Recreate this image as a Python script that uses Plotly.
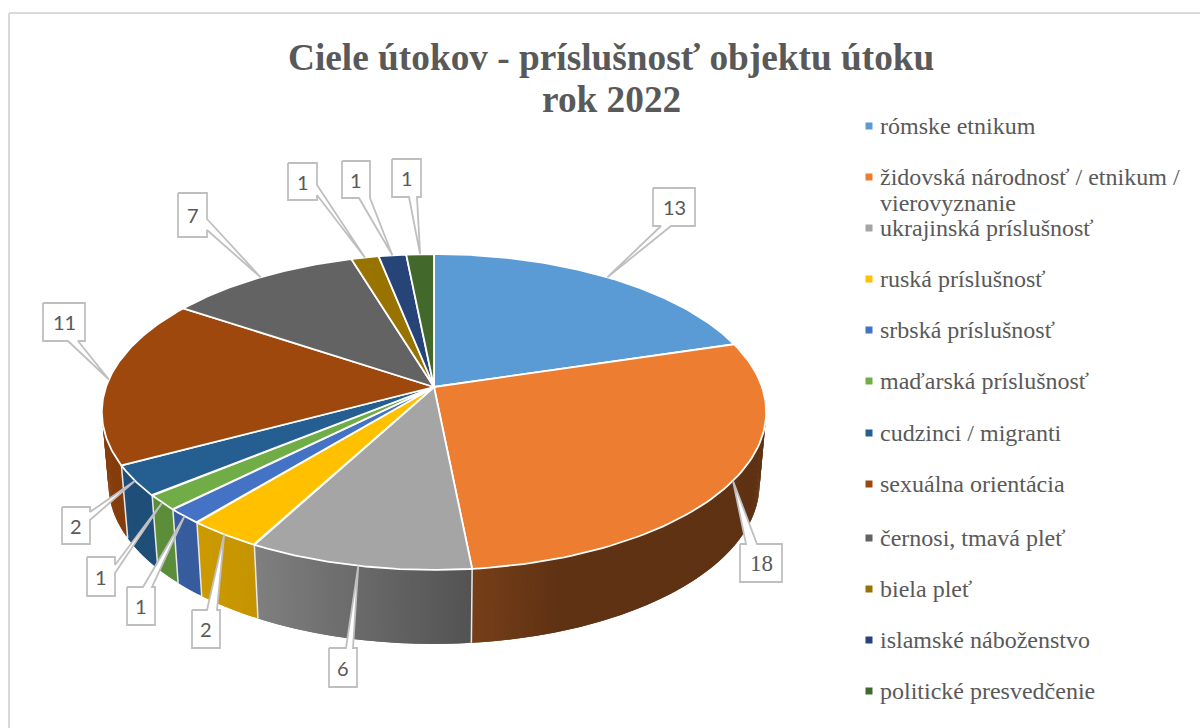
import numpy as np
import plotly.graph_objects as go

# ---------- data ----------
categories = ["rómske etnikum", "židovská národnosť / etnikum /<br>vierovyznanie",
              "ukrajinská príslušnosť", "ruská príslušnosť", "srbská príslušnosť",
              "maďarská príslušnosť", "cudzinci / migranti", "sexuálna orientácia",
              "černosi, tmavá pleť", "biela pleť", "islamské náboženstvo",
              "politické presvedčenie"]
values = [13, 18, 6, 2, 1, 1, 2, 11, 7, 1, 1, 1]
colors = ["#5B9BD5", "#ED7D31", "#A5A5A5", "#FFC000", "#4472C4", "#70AD47",
          "#255E91", "#9E480E", "#636363", "#997300", "#264478", "#43682B"]
title_lines = ["Ciele útokov - príslušnosť objektu útoku", "rok 2022"]

# ---------- layout constants (pixel space of the chart) ----------
W, H = 1200, 728
CX, CY, R, K, P = 434.0, 387.0, 328.0, 154.0, 0.158
EX = 433.5
TEXT = "#595959"
SERIF = "Liberation Serif"
LEG_Y = [126, 177, 228, 279, 330, 381, 433, 484, 538, 589, 640, 691]


def top(theta):
    """Perspective projection of a point on the pie's top rim."""
    w = 1 + P * np.cos(theta)
    return CX + R * np.sin(theta) / w, CY - K * np.cos(theta) / w


def bottom(x, y):
    return EX + 0.98 * (x - EX), 484 + (y - 412) * 160 / 158


def shade(col, x):
    f = np.interp(x, [100, 200, 255, 472, 560, 770], [.85, .80, .77, .50, .40, .40])
    r, g, b = (int(col[i:i + 2], 16) for i in (1, 3, 5))
    return f"rgb({r * f:.0f},{g * f:.0f},{b * f:.0f})"


fig = go.Figure()


def poly(xs, ys, fill, line=None, lw=0.0):
    fig.add_trace(go.Scatter(x=list(xs), y=list(ys), mode="lines", fill="toself",
                             fillcolor=fill, line=dict(color=line or fill, width=lw),
                             hoverinfo="skip", showlegend=False))


fig.add_shape(type="line", x0=9, x1=1200, y0=13, y1=13, line=dict(color="#D9D9D9", width=2))
fig.add_shape(type="line", x0=9, x1=9, y0=13, y1=728, line=dict(color="#D9D9D9", width=2))

total = sum(values)
edges = np.cumsum([0] + values) / total * 2 * np.pi

# side wall: only front-facing part of each wedge, as overlapping opaque strips
for i, col in enumerate(colors):
    a0, a1 = edges[i], edges[i + 1]
    n = max(2, int((a1 - a0) / 0.012))
    th = np.linspace(a0, a1, n + 1)
    tx, ty = top(th)
    vis = ty > 400
    if not vis.any():
        continue
    bx, by = bottom(tx, ty)
    idx = np.where(vis)[0]
    for j in idx[:-1]:
        e = min(j + 2, idx[-1])
        poly([tx[j], tx[e], bx[e], bx[j]], [ty[j], ty[e], by[e], by[j]],
             shade(col, (tx[j] + tx[j + 1]) / 2))

# white seams between wall pieces
for e in edges:
    x, y = top(e)
    if y > 420 and e < 2 * np.pi - 0.01:
        bx, by = bottom(x, y)
        fig.add_trace(go.Scatter(x=[x, bx], y=[y, by], mode="lines",
                                 line=dict(color="#E8E8E8", width=1.5),
                                 hoverinfo="skip", showlegend=False))

# top wedges
for i, col in enumerate(colors):
    th = np.linspace(edges[i], edges[i + 1], 80)
    x, y = top(th)
    poly(np.r_[CX, x, CX], np.r_[CY, y, CY], col, line="white", lw=1.8)

# callouts: box, with pointer to the wedge's rim mid point
mids = (edges[:-1] + edges[1:]) / 2
CALLOUTS = [
    (653, 188, 695, 226, (661, 226), (671, 226)),
    (740, 544, 782, 582, (746, 544), (757, 544)),
    (329, 648, 357, 687, (346, 648), (353, 648)),
    (192, 610, 220, 648, (207, 610), (217, 610)),
    (127, 587, 155, 625, (143, 587), (152, 587)),
    (87, 557, 115, 596, (115, 565), (115, 573)),
    (62, 507, 90, 544, (90, 512), (90, 520)),
    (43, 303, 85, 341, (68, 341), (78, 341)),
    (178, 193, 207, 237, (207, 219), (207, 230)),
    (288, 163, 317, 200, (317, 185), (317, 195)),
    (342, 161, 370, 198, (359, 198), (370, 198)),
    (392, 159, 421, 197, (409, 197), (417, 197)),
]
annotations = []
for v, m, (x0, y0, x1, y1, b0, b1) in zip(values, mids, CALLOUTS):
    tipx, tipy = top(m)
    if b0[1] == y0 and b1[1] == y0:
        path = [(x0, y0), b0, (tipx, tipy), b1, (x1, y0), (x1, y1), (x0, y1), (x0, y0)]
    elif b0[1] == y1 and b1[1] == y1:
        path = [(x0, y0), (x1, y0), (x1, y1), b1, (tipx, tipy), b0, (x0, y1), (x0, y0)]
    else:
        path = [(x0, y0), (x1, y0), b0, (tipx, tipy), b1, (x1, y1), (x0, y1), (x0, y0)]
    poly([p[0] for p in path], [p[1] for p in path], "white", line="#BFBFBF", lw=1.8)
    font = dict(family=SERIF, size=23, color=TEXT) if v == 18 else dict(family="Lato", size=20, color=TEXT)
    annotations.append(dict(x=(x0 + x1) / 2, y=(y0 + y1) / 2, text=str(v), showarrow=False,
                            font=font, xanchor="center", yanchor="middle"))

# legend
fig.add_trace(go.Scatter(x=[869] * len(colors), y=LEG_Y, mode="markers",
                         marker=dict(symbol="square", size=7, color=colors, line=dict(width=0)),
                         hoverinfo="skip", showlegend=False))
for name, y in zip(categories, LEG_Y):
    parts = name.split("<br>")
    for k, part in enumerate(parts):
        annotations.append(dict(x=878, y=y + k * 26, text=part, showarrow=False, xanchor="left",
                                yanchor="middle", font=dict(family=SERIF, size=24, color=TEXT)))

# title
for y, t in zip([57, 99], title_lines):
    annotations.append(dict(x=611, y=y, text=f"<b>{t}</b>", showarrow=False, xanchor="center",
                            yanchor="middle", font=dict(family=SERIF, size=37.3, color=TEXT)))

fig.update_layout(
    width=W, height=H, margin=dict(l=0, r=0, t=0, b=0), showlegend=False,
    paper_bgcolor="white", plot_bgcolor="white", annotations=annotations,
    xaxis=dict(range=[0, W], visible=False, fixedrange=True),
    yaxis=dict(range=[H, 0], visible=False, fixedrange=True),
)
fig.write_html("out.html", config=dict(displayModeBar=False),
               post_script="document.body.style.margin='0';document.body.style.overflow='hidden';")
